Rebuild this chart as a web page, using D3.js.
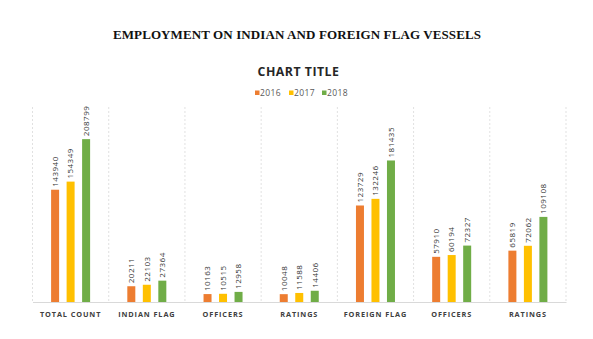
<!DOCTYPE html>
<html><head><meta charset="utf-8">
<script src="https://cdn.jsdelivr.net/npm/d3@7"></script>
<style>html,body{margin:0;padding:0;background:#fff;}svg{display:block;}</style>
</head><body>
<svg id="c" width="593" height="339"></svg>
<script>
const categories = ["TOTAL COUNT","INDIAN FLAG","OFFICERS","RATINGS","FOREIGN FLAG","OFFICERS","RATINGS"];
const years = ["2016","2017","2018"];
const values2016 = [143940, 20211, 10163, 10048, 123729, 57910, 65819];
const values2017 = [154349, 22103, 10515, 11588, 132246, 60194, 72062];
const values2018 = [208799, 27364, 12958, 14406, 181435, 72327, 109108];
const colors = ["#ED7D31", "#FFC000", "#70AD47"];

const series = [values2016, values2017, values2018];
const svg = d3.select("#c");
const plotLeft = 32.5, plotRight = 566, plotTop = 107, plotBottom = 302;

const x0 = d3.scaleBand().domain(d3.range(categories.length)).range([plotLeft, plotRight]).padding(0);
const x1 = d3.scaleBand().domain(years).range([0, x0.bandwidth()]).paddingInner(0.484).paddingOuter(1.2);
const y = d3.scaleLinear().domain([0, 250000]).range([plotBottom, plotTop]);

// Title
svg.append("text").attr("x", 297).attr("y", 38.5).attr("text-anchor", "middle")
  .attr("font-family", "Liberation Serif, Times New Roman, serif").attr("font-weight", "bold")
  .attr("font-size", 13).attr("letter-spacing", 0.1).attr("fill", "#111")
  .text("EMPLOYMENT ON INDIAN AND FOREIGN FLAG VESSELS");

svg.append("text").attr("x", 298.5).attr("y", 75.5).attr("text-anchor", "middle")
  .attr("font-family", "Open Sans, sans-serif").attr("font-weight", "bold")
  .attr("font-size", 12.3).attr("letter-spacing", 0.5).attr("fill", "#262626")
  .text("CHART TITLE");

// Legend
const legX = [255, 289, 322];
years.forEach((yr, i) => {
  const g = svg.append("g").attr("transform", `translate(${legX[i]},93)`);
  g.append("rect").attr("x", 0).attr("y", -2.5).attr("width", 4.5).attr("height", 4.5).attr("fill", colors[i]);
  g.append("text").attr("x", 5).attr("y", 3).attr("font-family", "Open Sans, sans-serif")
    .attr("font-size", 8.5).attr("letter-spacing", 0.4).attr("fill", "#595959").text(yr);
});

// Vertical separators (dashed gridlines)
const seps = d3.range(categories.length + 1).map(i => i < categories.length ? x0(i) : plotRight);
svg.append("g").selectAll("line").data(seps).join("line")
  .attr("x1", d => d).attr("x2", d => d).attr("y1", plotTop).attr("y2", plotBottom)
  .attr("stroke", "#d9d9d9").attr("stroke-width", 0.8).attr("stroke-dasharray", "2,2");

// Baseline axis
const xAxis = d3.axisBottom(x0).tickSize(0).tickFormat(i => categories[i]);
const ax = svg.append("g").attr("transform", `translate(0,${plotBottom})`).call(xAxis);
ax.select(".domain").attr("stroke", "#d9d9d9").attr("stroke-width", 1);
ax.selectAll("text").attr("dy", 0).attr("y", 14.5)
  .attr("font-family", "Open Sans, sans-serif").attr("font-weight", "bold")
  .attr("font-size", 7.3).attr("letter-spacing", 0.9).attr("fill", "#404040");

// Bars
const groups = svg.append("g").selectAll("g").data(categories.map((c, i) => i)).join("g")
  .attr("transform", i => `translate(${x0(i)},0)`);
groups.selectAll("rect").data(i => years.map((yr, k) => ({yr, k, v: series[k][i]}))).join("rect")
  .attr("x", d => x1(d.yr)).attr("width", x1.bandwidth())
  .attr("y", d => y(d.v)).attr("height", d => plotBottom - y(d.v))
  .attr("fill", d => colors[d.k]);
groups.selectAll("text").data(i => years.map((yr, k) => ({yr, k, v: series[k][i]}))).join("text")
  .attr("transform", d => `translate(${x1(d.yr) + x1.bandwidth()/2 + 2.8},${y(d.v) - 3}) rotate(-90)`)
  .attr("font-family", "Open Sans, sans-serif").attr("font-size", 8).attr("letter-spacing", 0.5)
  .attr("fill", "#333").text(d => d.v);
</script>
</body></html>
